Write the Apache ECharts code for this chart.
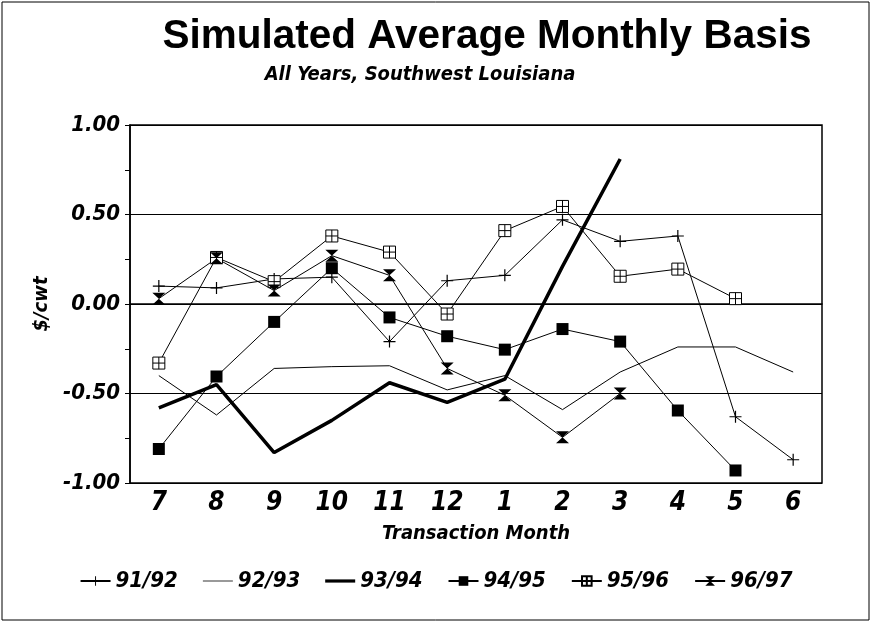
<!DOCTYPE html>
<html>
<head>
<meta charset="utf-8">
<script src="https://cdn.jsdelivr.net/npm/echarts@6/dist/echarts.min.js"></script>
<style>
  html, body { margin: 0; padding: 0; background: #fff; }
  #chart { width: 872px; height: 623px; }
</style>
</head>
<body>
<div id="chart"></div>
<script>
// months of the marketing year, July through June
var months = ['7', '8', '9', '10', '11', '12', '1', '2', '3', '4', '5', '6']
var s9192 = [0.10, 0.09, 0.14, 0.15, -0.21, 0.13, 0.16, 0.47, 0.35, 0.38, -0.63, -0.87]
var s9293 = [-0.40, -0.62, -0.36, -0.35, -0.345, -0.48, -0.40, -0.59, -0.38, -0.24, -0.24, -0.38]
var s9394 = [-0.58, -0.45, -0.83, -0.65, -0.44, -0.55, -0.42, 0.21, 0.81, null, null, null]
var s9495 = [-0.81, -0.405, -0.10, 0.20, -0.075, -0.18, -0.255, -0.14, -0.21, -0.595, -0.93, null]
var s9596 = [-0.33, 0.26, 0.125, 0.38, 0.29, -0.056, 0.41, 0.545, 0.155, 0.195, 0.03, null]
var s9697 = [0.03, 0.255, 0.075, 0.27, 0.16, -0.36, -0.51, -0.745, -0.50, null, null, null]

var narrow = '"DejaVu Sans Condensed", "Liberation Sans Narrow", Arial, sans-serif'

var plusPath = 'path://M4.5,0 H5.5 V4.5 H10 V5.5 H5.5 V10 H4.5 V5.5 H0 V4.5 H4.5 Z'
var boxPath = 'path://M0,0 H10 V10 H0 Z M5,0 V10 M0,5 H10'
var hourglassPath = 'path://M0,0 H10 L5,5 L10,10 H0 L5,5 Z'

var chart = echarts.init(document.getElementById('chart'))

function mkLine(name, data, opts) {
  var s = {
    name: name,
    type: 'line',
    data: data,
    symbol: 'none',
    symbolSize: 12,
    lineStyle: { color: '#000', width: 1 },
    itemStyle: { color: '#000' },
    emphasis: { disabled: true },
    animation: false
  }
  for (var k in opts) s[k] = opts[k]
  return s
}

var option = {
  backgroundColor: '#fff',
  title: [{
    text: 'Simulated Average Monthly Basis',
    left: 482,
    textAlign: 'center',
    top: 11,
    textStyle: { fontFamily: 'Liberation Sans, Arial, sans-serif', fontWeight: 'bold', fontSize: 40.5, color: '#000' }
  }, {
    text: 'All Years, Southwest Louisiana',
    left: 415,
    textAlign: 'center',
    top: 60,
    textStyle: { fontFamily: narrow, fontStyle: 'italic', fontWeight: 'bold', fontSize: 20, color: '#000' }
  }],
  legend: {
    bottom: 26,
    left: 'center',
    itemWidth: 30,
    itemHeight: 12,
    itemGap: 25,
    textStyle: { fontFamily: narrow, fontStyle: 'italic', fontWeight: 'bold', fontSize: 22, color: '#000' },
    data: [
      '91/92',
      { name: '92/93', icon: 'path://M0,4.6 H30 V5.4 H0 Z' },
      { name: '93/94', icon: 'path://M0,3.4 H30 V6.6 H0 Z' },
      '94/95', '95/96', '96/97'
    ]
  },
  grid: {
    left: 130, right: 50, top: 125, bottom: 140,
    show: true, borderColor: '#000', borderWidth: 1.5
  },
  xAxis: {
    type: 'category',
    data: months,
    name: 'Transaction Month',
    nameLocation: 'middle',
    nameGap: 41,
    nameTextStyle: { fontFamily: narrow, fontStyle: 'italic', fontWeight: 'bold', fontSize: 20, color: '#000' },
    axisLine: { lineStyle: { color: '#000', width: 1.5 } },
    axisTick: { alignWithLabel: true, length: 6, lineStyle: { color: '#000' } },
    axisLabel: { fontFamily: narrow, fontStyle: 'italic', fontWeight: 'bold', fontSize: 26, color: '#000', margin: 7 },
    splitLine: { show: false }
  },
  yAxis: {
    type: 'value',
    min: -1, max: 1, interval: 0.5,
    name: '$/cwt',
    nameLocation: 'middle',
    nameGap: 76,
    nameRotate: 90,
    nameTextStyle: { fontFamily: narrow, fontStyle: 'italic', fontWeight: 'bold', fontSize: 20, color: '#000' },
    axisLine: { show: true, lineStyle: { color: '#000', width: 1.5 } },
    axisTick: { show: true, length: 5, lineStyle: { color: '#000' } },
    minorTick: { show: true, splitNumber: 2, length: 5, lineStyle: { color: '#000' } },
    axisLabel: {
      fontFamily: narrow, fontStyle: 'italic', fontWeight: 'bold', fontSize: 22, color: '#000', margin: 10,
      formatter: function (v) { return v.toFixed(2) }
    },
    splitLine: { show: true, lineStyle: { color: '#000', width: 1 } }
  },
  series: [
    mkLine('91/92', s9192, { symbol: plusPath, symbolSize: 12 }),
    mkLine('92/93', s9293, {}),
    mkLine('93/94', s9394, { lineStyle: { color: '#000', width: 3.5 } }),
    mkLine('94/95', s9495, { symbol: 'rect', symbolSize: 12 }),
    mkLine('95/96', s9596, { symbol: boxPath, symbolSize: 12, itemStyle: { color: '#fff', borderColor: '#000', borderWidth: 1 } }),
    mkLine('96/97', s9697, { symbol: hourglassPath, symbolSize: [13, 12] })
  ],
  graphic: [{
    type: 'rect',
    shape: { x: 2, y: 2, width: 867, height: 618 },
    style: { fill: 'none', stroke: '#000', lineWidth: 1 },
    silent: true
  }]
}

chart.setOption(option)
</script>
</body>
</html>
